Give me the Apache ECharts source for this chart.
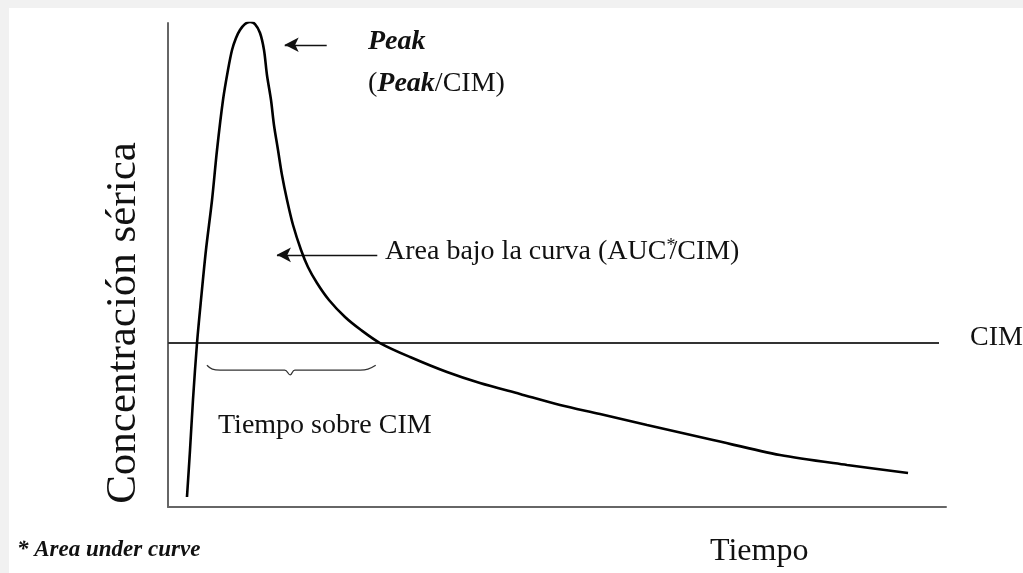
<!DOCTYPE html>
<html><head><meta charset="utf-8">
<script src="https://cdn.jsdelivr.net/npm/echarts@6/dist/echarts.min.js"></script>
<style>
html,body{margin:0;padding:0;background:#f1f1f1;}
#wrap{position:relative;width:1023px;height:573px;background:#f1f1f1;overflow:hidden;}
#c{position:absolute;left:9px;top:8px;width:1014px;height:565px;background:#fff;}
</style></head>
<body><div id="wrap"><div id="c"></div></div>
<script>
// Curve: serum concentration vs time (arbitrary units, 0-100)
const curveTime = [2.44, 2.83, 3.21, 3.73, 4.24, 4.88, 5.66, 6.30, 7.07, 7.71, 8.23, 8.74, 9.25, 9.90, 10.54,
  11.18, 11.83, 12.34, 12.72, 13.24, 13.62, 14.14, 14.65, 15.30, 16.07, 17.10, 17.99, 19.15, 20.69, 22.75, 24.81, 27.25,
  31.11, 35.86, 40.10, 45.24, 50.39, 55.53, 61.57, 70.05, 78.66, 87.28, 95.12];
const curveConc = [2.07, 11.78, 22.11, 33.88, 42.77, 53.10, 63.43, 73.76, 84.09, 90.29, 94.42, 96.90, 98.55, 99.79, 100.2,
  99.79, 97.93, 94.42, 89.26, 84.09, 78.93, 73.76, 68.60, 63.43, 58.26, 53.10, 49.59, 46.28, 42.77, 39.26, 36.57, 33.88,
  30.99, 27.89, 25.62, 23.35, 21.07, 19.21, 16.94, 13.84, 10.74, 8.68, 7.02];
const cimLevel = 33.9;
const cimStart = 0, cimEnd = 99.1;
// Annotation arrows [fromX, toX, y]
const peakArrow = [20.4, 15.0, 95.5];
const aucArrow = [26.9, 14.0, 52.1];
// Brace under "time above MIC"
const braceTime = [5.0, 5.7, 6.7, 15.0, 15.7, 16.3, 24.7, 25.7, 26.7];
const braceConc = [29.3, 28.5, 28.3, 28.3, 27.3, 28.3, 28.3, 28.5, 29.3];

const OX = 9, OY = 8; // chart offset in page
const serif = '"Liberation Serif","Times New Roman",serif';
function txt(x, y, text, opt) {
  return Object.assign({type:'text', x: x - OX, y: y - OY, style: Object.assign({text: text, fill:'#111', font: '28px ' + serif, textVerticalAlign:'middle', textAlign:'left'}, opt || {})});
}

const chart = echarts.init(document.getElementById('c'), null, {renderer:'canvas'});
const option = {
  animation: false,
  grid: {left: 168 - OX, top: 23 - OY, right: 1023 - 946, bottom: 573 - 507},
  xAxis: {type:'value', min:0, max:100, axisLine:{show:true, lineStyle:{color:'#666', width:2}}, axisTick:{show:false}, axisLabel:{show:false}, splitLine:{show:false}},
  yAxis: {type:'value', min:0, max:100, axisLine:{show:true, lineStyle:{color:'#666', width:2}}, axisTick:{show:false}, axisLabel:{show:false}, splitLine:{show:false}},
  series: [
    {
      type:'line', data: curveTime.map((t,i)=>[t, curveConc[i]]), smooth:0.3, symbol:'none',
      lineStyle:{color:'#000', width:2.6}, z:5,
      markLine:{
        silent:true, animation:false, symbol:['none','none'], label:{show:false},
        lineStyle:{color:'#333', width:2.2, type:'solid'},
        data:[[{coord:[cimStart, cimLevel]},{coord:[cimEnd, cimLevel]}]]
      }
    },
    {
      type:'line', data: braceTime.map((t,i)=>[t, braceConc[i]]), smooth:0.4, symbol:'none',
      lineStyle:{color:'#333', width:1.3}
    },
    {
      type:'line', data:[], symbol:'none',
      markLine:{
        silent:true, animation:false, symbol:['none','arrow'], symbolSize:[11,14], label:{show:false},
        lineStyle:{color:'#111', width:1.3, type:'solid'}, itemStyle:{color:'#111'},
        data:[
          [{coord:[peakArrow[0], peakArrow[2]]},{coord:[peakArrow[1], peakArrow[2]]}],
          [{coord:[aucArrow[0], aucArrow[2]]},{coord:[aucArrow[1], aucArrow[2]]}]
        ]
      }
    }
  ],
  graphic: [
    txt(368, 42, 'Peak', {font:'italic bold 28px ' + serif}),
    {type:'text', x:368-OX, y:84-OY, style:{
      rich:{n:{font:'28px ' + serif, fill:'#111'}, b:{font:'italic bold 28px ' + serif, fill:'#111'}},
      text:'{n|(}{b|Peak}{n|/CIM)}', textVerticalAlign:'middle'}},
    {type:'text', x:385-OX, y:252-OY, style:{
      rich:{n:{font:'28px ' + serif, fill:'#111'}, s:{font:'18px ' + serif, fill:'#111', verticalAlign:'top', padding:[0,-6,12,0]}},
      text:'{n|Area bajo la curva (AUC}{s|*}{n|/CIM)}', textVerticalAlign:'middle'}},
    txt(970, 338, 'CIM'),
    txt(218, 426, 'Tiempo sobre CIM'),
    txt(710, 552, 'Tiempo', {font:'32px ' + serif}),
    {type:'text', x:124-OX, y:323-OY, rotation:Math.PI/2, style:{text:'Concentración sérica', font:'43px ' + serif, fill:'#111', textAlign:'center', textVerticalAlign:'middle'}},
    txt(17, 550, '* Area under curve', {font:'italic bold 23px ' + serif})
  ]
};
chart.setOption(option);
</script></body></html>
